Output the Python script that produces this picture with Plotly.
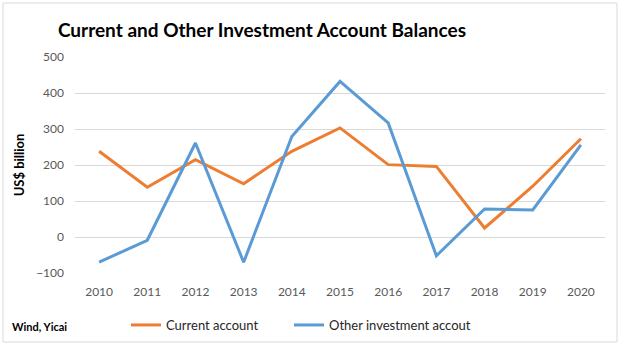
import plotly.graph_objects as go

years = ["2010", "2011", "2012", "2013", "2014", "2015", "2016", "2017", "2018", "2019", "2020"]
current_account = [238, 138, 215, 148, 238, 303, 201, 196, 25, 141, 273]
other_investment = [-70, -9, 261, -70, 279, 432, 317, -52, 78, 75, 256]
y_ticks = [-100, 0, 100, 200, 300, 400, 500]

W, H = 625, 346
L, R, T, B = 75, 20, 57, 73
pw, ph = W - L - R, H - T - B

def px(x):
    return (x - L) / pw

def py(y):
    return (H - B - y) / ph

FONT = "Lato"

fig = go.Figure()
fig.add_trace(go.Scatter(x=years, y=current_account, mode="lines", name="Current account",
                         line=dict(color="#ED7D31", width=3), legend="legend"))
fig.add_trace(go.Scatter(x=years, y=other_investment, mode="lines", name="Other investment accout",
                         line=dict(color="#5B9BD5", width=3), legend="legend2"))

leg_common = dict(orientation="h", yanchor="middle", y=py(325), xanchor="left",
                  font=dict(family=FONT, size=13, color="#262626"), itemwidth=30,
                  bgcolor="rgba(0,0,0,0)", borderwidth=0)

fig.update_layout(
    width=W, height=H,
    margin=dict(l=L, r=R, t=T, b=B, autoexpand=False),
    paper_bgcolor="white", plot_bgcolor="white",
    font=dict(family=FONT, color="#595959", size=12),
    title=dict(text="<b>Current and Other Investment Account Balances</b>",
               x=px(262), xref="paper", xanchor="center", y=1 - 30 / H, yanchor="middle",
               font=dict(family=FONT, size=19, color="black")),
    xaxis=dict(type="category", range=[-0.5, 10.5], showgrid=False, zeroline=False,
               showline=False, ticks="", ticklabelstandoff=10,
               tickfont=dict(size=12, color="#595959")),
    yaxis=dict(range=[-100, 500], tickvals=y_ticks, showgrid=True, gridcolor="#D9D9D9",
               gridwidth=1, zeroline=False, showline=False, ticks="",
               ticklabelstandoff=10,
               tickfont=dict(size=12, color="#595959"),
               title=dict(text="<b>US$ billion</b>", standoff=8,
                          font=dict(size=13, color="black"))),
    showlegend=True,
    legend=dict(x=px(126), **leg_common),
    legend2=dict(x=px(289), **leg_common),
)

fig.add_annotation(text="<b>Wind, Yicai</b>", xref="paper", yref="paper",
                   x=px(10), y=py(326), xanchor="left", yanchor="middle", showarrow=False,
                   font=dict(family=FONT, size=11, color="black"))

fig.add_shape(type="rect", xref="paper", yref="paper",
              x0=px(3), x1=px(617), y0=py(342), y1=py(3),
              line=dict(color="#D9D9D9", width=1), fillcolor="rgba(0,0,0,0)", layer="below")

fig.write_html("out.html")
